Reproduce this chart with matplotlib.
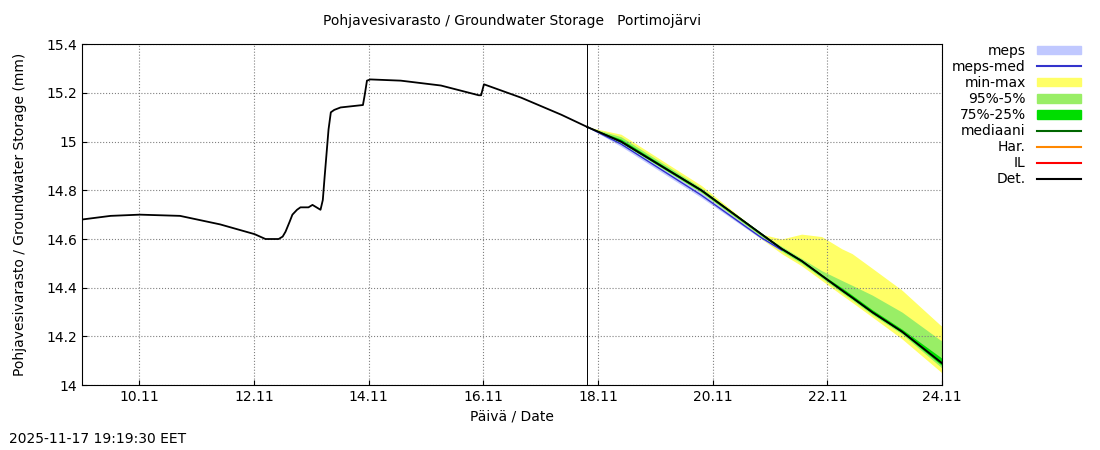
import matplotlib
matplotlib.use("Agg")
import matplotlib.pyplot as plt
from datetime import datetime, timedelta

t0 = datetime(2025, 11, 9)
hist_days = [0.0,0.5,1.01,1.71,2.41,3.01,3.2,3.43,3.5,3.55,3.62,3.67,3.75,3.81,3.95,4.02,4.16,4.2,4.23,4.3,4.34,4.4,4.51,4.9,4.93,4.97,5.03,5.56,6.26,6.92,6.96,7.01,7.66,8.36,8.81]
hist_vals = [14.68,14.695,14.70,14.695,14.66,14.62,14.60,14.60,14.61,14.63,14.67,14.70,14.72,14.73,14.73,14.74,14.72,14.76,14.85,15.05,15.12,15.13,15.14,15.15,15.19,15.25,15.255,15.25,15.23,15.19,15.19,15.235,15.18,15.11,15.06]
fc_days = [8.81,9.4,10.8,11.85,12.2,12.55,12.9,13.25,13.43,13.78,14.3,15.0]
median  = [15.06,15.0,14.80,14.62,14.56,14.51,14.45,14.39,14.36,14.30,14.22,14.09]
mx      = [15.06,15.03,14.82,14.62,14.60,14.62,14.61,14.56,14.54,14.48,14.39,14.24]
mn      = [15.06,14.99,14.78,14.60,14.54,14.49,14.43,14.37,14.34,14.28,14.19,14.05]
p95     = [15.06,15.02,14.81,14.62,14.57,14.52,14.47,14.43,14.41,14.37,14.30,14.18]
p05     = [15.06,14.99,14.79,14.61,14.55,14.50,14.44,14.38,14.35,14.29,14.21,14.07]
p75     = [15.06,15.01,14.805,14.625,14.565,14.515,14.455,14.40,14.37,14.31,14.23,14.11]
p25     = [15.06,14.995,14.795,14.615,14.555,14.505,14.445,14.385,14.355,14.295,14.215,14.08]
meps_days = [8.81,9.4,10.8,11.85,12.2]
meps_hi = [15.06,14.995,14.79,14.61,14.56]
meps_lo = [15.06,14.98,14.77,14.60,14.55]
meps_med = [15.06,14.99,14.78,14.605,14.555]

d = lambda arr: [t0 + timedelta(days=x) for x in arr]
fig = plt.figure(figsize=(11, 4.5), dpi=100)
ax = fig.add_axes([0.0745, 0.144, 0.782, 0.758])
ax.fill_between(d(fc_days), mn, mx, color="#ffff66", lw=0)
ax.fill_between(d(fc_days), p05, p95, color="#99ee66", lw=0)
ax.fill_between(d(fc_days), p25, p75, color="#00dd00", lw=0)
ax.fill_between(d(meps_days), meps_lo, meps_hi, color="#c0c8ff", lw=0)
ax.plot(d(meps_days), meps_med, color="#3333cc", lw=1)
ax.plot(d(fc_days), median, color="#006600", lw=1)
ax.plot(d(hist_days), hist_vals, color="black", lw=1.3)
ax.plot(d(fc_days), median, color="black", lw=1.3)
ax.axvline(t0 + timedelta(days=8.81), color="black", lw=0.7)

ax.set_xlim(t0, datetime(2025, 11, 24))
ax.set_ylim(14, 15.4)
ticks = [datetime(2025, 11, dd) for dd in range(10, 25, 2)]
ax.set_xticks(ticks)
ax.set_xticklabels([f"{t.day}.11" for t in ticks])
ax.set_yticks([14, 14.2, 14.4, 14.6, 14.8, 15, 15.2, 15.4])
ax.set_yticklabels(["14", "14.2", "14.4", "14.6", "14.8", "15", "15.2", "15.4"])
ax.grid(True, color="gray", ls=":", lw=0.8)
ax.tick_params(labelsize=10, direction="in")
ax.set_xlabel("Päivä / Date", fontsize=10)
ax.set_ylabel("Pohjavesivarasto / Groundwater Storage (mm)", fontsize=10, labelpad=14)
ax.set_title("Pohjavesivarasto / Groundwater Storage   Portimojärvi", fontsize=10, pad=14)
fig.text(0.008, 0.015, "2025-11-17 19:19:30 EET", fontsize=10)

from matplotlib.patches import Patch
from matplotlib.lines import Line2D
h = [Patch(color="#c0c8ff"), Line2D([], [], color="#3333cc"), Patch(color="#ffff66"),
     Patch(color="#99ee66"), Patch(color="#00dd00"), Line2D([], [], color="#006600"),
     Line2D([], [], color="#ff8800"), Line2D([], [], color="red"), Line2D([], [], color="black")]
l = ["meps", "meps-med", "min-max", "95%-5%", "75%-25%", "mediaani", "Har.", "IL", "Det."]
fig.legend(h, l, loc="upper right", bbox_to_anchor=(0.988, 0.915), frameon=False, markerfirst=False,
           fontsize=10, handlelength=3.2, labelspacing=0.15, borderaxespad=0, handleheight=0.6)
fig.savefig("out.png")
